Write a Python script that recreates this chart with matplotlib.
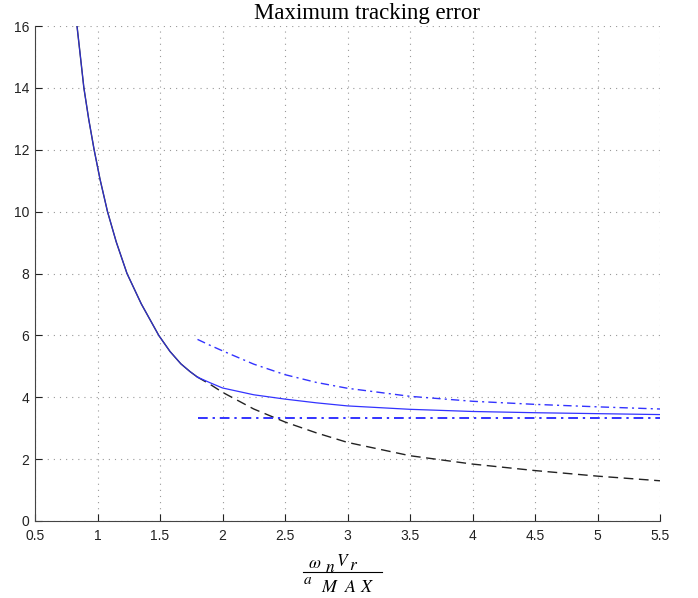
import matplotlib
matplotlib.use('Agg')
from matplotlib import pyplot as plt
from matplotlib.lines import Line2D

# values
x_left = [0.836, 0.86, 0.891, 0.93, 0.973, 1.02, 1.08, 1.15, 1.236, 1.35,
          1.49, 1.58, 1.667, 1.74, 1.8]
y_left = [16.0, 15.13, 14.0, 12.98, 12.0, 11.05, 10.0, 9.02, 8.0, 7.02,
          6.0, 5.48, 5.08, 4.83, 4.65]

x_right = [1.8, 1.9, 2.0, 2.25, 2.5, 2.75, 3.0, 3.5, 4.0, 4.5, 5.0, 5.5]
y_dashed = [4.65, 4.42, 4.16, 3.62, 3.2, 2.85, 2.54, 2.11, 1.84, 1.63, 1.45, 1.3]
y_solid = [4.65, 4.47, 4.30, 4.08, 3.94, 3.82, 3.72, 3.61, 3.54, 3.5, 3.47, 3.44]
y_upper = [5.87, 5.68, 5.5, 5.07, 4.73, 4.48, 4.29, 4.03, 3.87, 3.77, 3.69, 3.62]

x_flat = [1.8, 5.5]
y_flat = [3.33, 3.33]

x_ticks = [0.5, 1, 1.5, 2, 2.5, 3, 3.5, 4, 4.5, 5, 5.5]
x_tick_labels = ['0.5', '1', '1.5', '2', '2.5', '3', '3.5', '4', '4.5', '5', '5.5']
y_ticks = [0, 2, 4, 6, 8, 10, 12, 14, 16]

plt.rcParams['font.family'] = ['Liberation Sans', 'DejaVu Sans']
plt.rcParams['mathtext.fontset'] = 'stix'

W, H = 698.0, 598.0
fig = plt.figure(figsize=(6.98, 5.98), dpi=100)
ax = fig.add_axes([35 / W, 1 - 521 / H, 625 / W, 495 / H])

blue = '#3333ff'
dark = '#222222'
# black reference curve: solid on the left, dashed on the right
ax.plot(x_left, y_left, color=dark, lw=1.0)
ax.plot(x_right, y_dashed, color=dark, lw=1.0, dashes=(7, 4))
# blue curves
ax.plot(x_left, y_left, color=blue, lw=0.8, alpha=0.8)
ax.plot(x_right, y_solid, color=blue, lw=0.9)
ax.plot(x_right, y_upper, color=blue, lw=1.0, dashes=(6, 3, 1.5, 3))
ax.plot(x_flat, y_flat, color=blue, lw=1.4, dashes=(5, 2.5, 1.2, 2.5))

ax.set_xlim(0.5, 5.5)
ax.set_ylim(0, 16)
ax.set_xticks(x_ticks)
ax.set_xticklabels(x_tick_labels)
ax.set_yticks(y_ticks)
ax.tick_params(direction='in', length=5, width=0.8, labelsize=10,
               colors='#222222', pad=4)
ax.tick_params(axis='x', pad=5.5)
ax.grid(True, color='0.6', linewidth=0.8, dashes=(1, 4.5))
for side in ['top', 'right']:
    ax.spines[side].set_visible(False)
for side in ['left', 'bottom']:
    ax.spines[side].set_color('#444444')
    ax.spines[side].set_linewidth(0.8)

fig.text(367 / W, 1 - 13 / H, 'Maximum tracking error',
         family='Liberation Serif', fontsize=16.5, ha='center', va='center')

# x label: omega_n V_r / a_MAX, laid out piece by piece
label_parts = [(r'$\omega$', 315, 564, 12.5), (r'$n$', 330, 567, 12.5),
               (r'$V$', 343, 561, 12.5), (r'$r$', 354, 566, 12.5),
               (r'$a$', 308, 580, 11), (r'$M$', 330, 588, 13),
               (r'$A$', 351, 588, 13), (r'$X$', 367, 588, 13)]
for txt, px, py, size in label_parts:
    fig.text(px / W, 1 - py / H, txt, fontsize=size, ha='center', va='center')
fig.add_artist(Line2D([303 / W, 382 / W], [1 - 572 / H, 1 - 572 / H],
                      color='black', lw=0.8))

fig.savefig('out.png', dpi=100)
